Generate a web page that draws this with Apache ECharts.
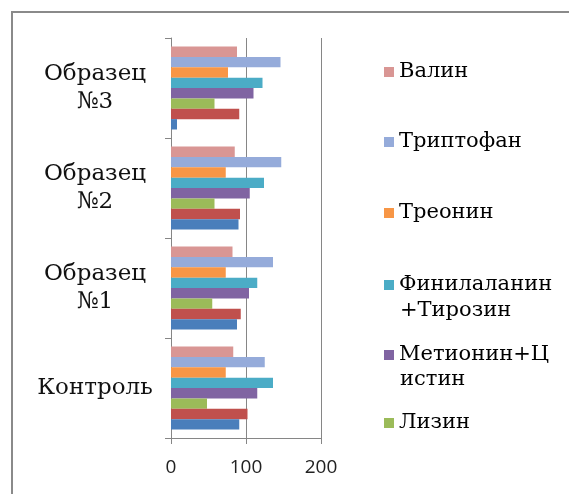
<!DOCTYPE html>
<html>
<head>
<meta charset="utf-8">
<script src="https://cdn.jsdelivr.net/npm/echarts@6/dist/echarts.min.js"></script>
<style>
  html, body { margin: 0; padding: 0; background: #fff; }
  #chart { width: 569px; height: 494px; }
</style>
</head>
<body>
<div id="chart"></div>
<script>
var dom = document.getElementById('chart');
var myChart = echarts.init(dom);

// categories, bottom to top
var categories = ['Контроль', 'Образец\n№1', 'Образец\n№2', 'Образец\n№3'];

// series, top bar of each group first
var valin = [83, 82, 85, 88];
var triptofan = [125, 136, 147, 146];
var treonin = [73, 73, 73, 76];
var finTir = [136, 115, 124, 122];
var metCis = [115, 104, 105, 110];
var lizin = [48, 55, 58, 58];
var leicin = [102, 93, 92, 91];
var izoleicin = [91, 88, 90, 8];

var xTicks = [0, 100, 200];

var seriesNames = ['Валин', 'Триптофан', 'Треонин', 'Финилаланин+Тирозин',
                   'Метионин+Цистин', 'Лизин', 'Лейцин', 'Изолейцин'];
var seriesData = [valin, triptofan, treonin, finTir, metCis, lizin, leicin, izoleicin];
var colors = ['#D99694', '#95ABDA', '#F79646', '#4BACC6', '#8064A2', '#9BBB59', '#C0504D', '#4A7EBB'];

var serif = 'DejaVu Serif';

// first line goes in the legend, the wrapped rest is placed under it
var firstLine = {
  'Финилаланин+Тирозин': 'Финилаланин',
  'Метионин+Цистин': 'Метионин+Ц'
};

function legendItem(name, top) {
  return {
    data: [name],
    orient: 'vertical',
    left: 379,
    top: top,
    itemWidth: 10,
    itemHeight: 10,
    icon: 'rect',
    selectedMode: false,
    formatter: function (n) {
      return firstLine[n] || n;
    },
    textStyle: {
      fontFamily: serif,
      fontSize: 21,
      color: '#000',
      lineHeight: 24
    }
  };
}

function wrapText(txt, y) {
  return {
    type: 'text',
    left: 400,
    top: y - 12,
    silent: true,
    style: { text: txt, font: '21px "DejaVu Serif", serif', fill: '#000' }
  };
}

var option = {
  backgroundColor: '#fff',
  animation: false,
  grid: { left: 171, top: 38, width: 150, height: 400 },
  legend: [
    legendItem('Валин', 55),
    legendItem('Триптофан', 125),
    legendItem('Треонин', 196),
    legendItem('Финилаланин+Тирозин', 268),
    legendItem('Метионин+Цистин', 338),
    legendItem('Лизин', 406)
  ],
  xAxis: {
    type: 'value',
    min: xTicks[0],
    max: xTicks[xTicks.length - 1],
    interval: 100,
    axisLine: { show: true, lineStyle: { color: '#868686' } },
    axisTick: { show: true, length: 6, lineStyle: { color: '#868686' } },
    splitLine: { show: true, lineStyle: { color: '#868686', width: 1 } },
    axisLabel: {
      margin: 20,
      fontFamily: 'Open Sans',
      fontSize: 19,
      color: '#222'
    }
  },
  yAxis: {
    type: 'category',
    data: categories,
    axisLine: { show: true, lineStyle: { color: '#868686' } },
    axisTick: { show: true, length: 6, lineStyle: { color: '#868686' } },
    axisLabel: {
      margin: 76,
      align: 'center',
      fontFamily: serif,
      fontSize: 23,
      lineHeight: 28,
      color: '#111'
    }
  },
  graphic: [
    {
      type: 'rect',
      shape: { x: 12, y: 12, width: 700, height: 700 },
      style: { fill: 'none', stroke: '#8a8a8a', lineWidth: 2 },
      silent: true
    },
    wrapText('+Тирозин', 312),
    wrapText('истин', 381)
  ],
  series: seriesNames.map(function (name, i) {
    return {
      name: name,
      type: 'bar',
      data: seriesData[i],
      barGap: '0%',
      barCategoryGap: '17%',
      itemStyle: { color: colors[i] }
    };
  })
};

myChart.setOption(option);

window.onresize = function () {
  myChart.resize();
};
</script>
</body>
</html>
